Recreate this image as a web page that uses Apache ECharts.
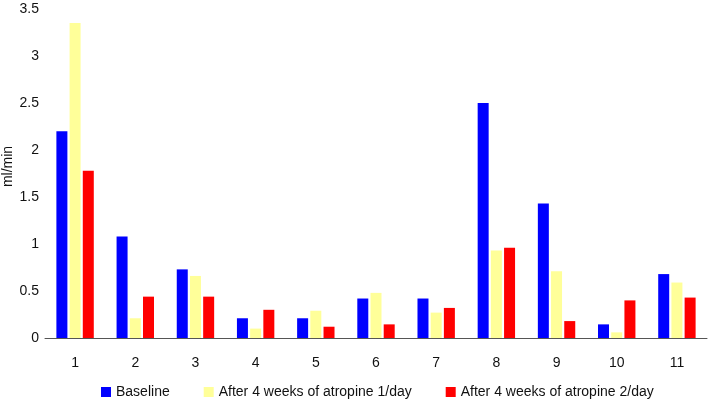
<!DOCTYPE html>
<html><head><meta charset="utf-8">
<script src="https://cdn.jsdelivr.net/npm/echarts@6/dist/echarts.min.js"></script>
<style>html,body{margin:0;padding:0;background:#fff}#c{width:709px;height:401px}</style>
</head><body><div id="c"></div>
<script>
const categories = ['1','2','3','4','5','6','7','8','9','10','11'];
const baseline = [2.20, 1.08, 0.73, 0.21, 0.21, 0.42, 0.42, 2.50, 1.43, 0.145, 0.68];
const atropine1 = [3.35, 0.21, 0.66, 0.10, 0.29, 0.48, 0.27, 0.93, 0.71, 0.06, 0.59];
const atropine2 = [1.78, 0.44, 0.44, 0.30, 0.12, 0.145, 0.32, 0.96, 0.18, 0.40, 0.43];
const yTicks = { min: 0, max: 3.5, interval: 0.5 };

const chart = echarts.init(document.getElementById('c'), null, {renderer: 'canvas'});
const font = 'Liberation Sans, Arial, sans-serif';
chart.setOption({
  animation: false,
  textStyle: { fontFamily: font },
  grid: { left: 45, right: 2, top: 9, bottom: 63, containLabel: false, outerBoundsMode: 'none' },
  legend: {
    top: 380, left: 96, itemWidth: 10, itemHeight: 10, itemGap: 34,
    icon: 'rect',
    textStyle: { fontFamily: font, fontSize: 14, color: '#111' },
    data: ['Baseline', 'After 4 weeks of atropine 1/day', 'After 4 weeks of atropine 2/day']
  },
  xAxis: {
    type: 'category', data: categories,
    axisLine: { lineStyle: { color: '#555', width: 1 } },
    axisTick: { show: false },
    axisLabel: { color: '#111', fontSize: 14, margin: 18, fontFamily: font }
  },
  yAxis: {
    type: 'value', min: yTicks.min, max: yTicks.max, interval: yTicks.interval,
    name: 'ml/min', nameLocation: 'middle', nameGap: 30, nameRotate: 90, nameMoveOverlap: false,
    nameTextStyle: { color: '#111', fontSize: 14, fontFamily: font, padding: [0, 0, 0, 14] },
    axisLine: { show: false }, axisTick: { show: false },
    splitLine: { show: false },
    axisLabel: { color: '#111', fontSize: 14, margin: 6, fontFamily: font }
  },
  series: [
    { name: 'Baseline', type: 'bar', data: baseline, barWidth: 11, barGap: '20%', itemStyle: { color: '#0000FF' } },
    { name: 'After 4 weeks of atropine 1/day', type: 'bar', data: atropine1, barWidth: 11, barGap: '20%', itemStyle: { color: '#FFFF99' } },
    { name: 'After 4 weeks of atropine 2/day', type: 'bar', data: atropine2, barWidth: 11, barGap: '20%', itemStyle: { color: '#FF0000' } }
  ]
});
</script></body></html>
